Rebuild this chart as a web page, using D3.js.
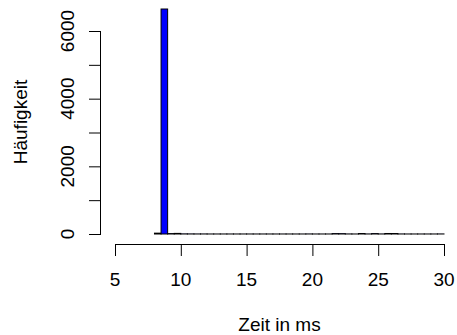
<!DOCTYPE html>
<meta charset="utf-8">
<style>
  body { margin: 0; background: #fff; }
  text { font-family: "Liberation Sans", Arial, sans-serif; font-size: 19px; fill: #000; }
</style>
<div id="chart"></div>
<script src="https://cdn.jsdelivr.net/npm/d3@7"></script>
<script>
// histogram bins (start of each 0.5 ms bin) and counts
const binStarts = d3.range(44).map(i => 8 + i * 0.5);
const counts = [25, 6650, 12, 18, 4, 3, 2, 2, 1, 1, 1, 1, 1, 1, 1, 1,
                1, 1, 1, 1, 1, 1, 1, 2, 1, 1, 1, 12, 10, 2, 1, 14,
                2, 12, 2, 15, 14, 2, 1, 1, 1, 1, 1, 2];
const binWidth = 0.5;
const xTicks = [5, 10, 15, 20, 25, 30];
const yTicks = [0, 1000, 2000, 3000, 4000, 5000, 6000];
const yLabels = [0, 2000, 4000, 6000];

const width = 457, height = 335;
const svg = d3.select("#chart").append("svg")
    .attr("width", width)
    .attr("height", height);

const x = d3.scaleLinear().domain([5, 30]).range([115, 444]);
const y = d3.scaleLinear().domain([0, 6000]).range([234, 31]);

// bars
svg.append("g")
  .selectAll("rect")
  .data(binStarts)
  .join("rect")
    .attr("x", d => x(d))
    .attr("width", d => x(d + binWidth) - x(d))
    .attr("y", (d, i) => y(counts[i]))
    .attr("height", (d, i) => y(0) - y(counts[i]))
    .attr("fill", "blue")
    .attr("stroke", "black")
    .attr("stroke-width", 1);

// x axis
const xAxis = svg.append("g")
    .attr("transform", "translate(0,244)")
    .call(d3.axisBottom(x).tickValues(xTicks).tickSize(12).tickFormat(""));
xAxis.select(".domain").attr("d", "M" + x(5) + ",0.5H" + x(30));

svg.append("g")
  .selectAll("text")
  .data(xTicks)
  .join("text")
    .attr("x", d => x(d))
    .attr("y", 286)
    .attr("text-anchor", "middle")
    .text(d => d);

// y axis
const yAxis = svg.append("g")
    .attr("transform", "translate(101,0)")
    .call(d3.axisLeft(y).tickValues(yTicks).tickSize(12).tickFormat(""));
yAxis.select(".domain").attr("d", "M-0.5," + y(0) + "V" + y(6000));

svg.append("g")
  .selectAll("text")
  .data(yLabels)
  .join("text")
    .attr("transform", d => "translate(74," + y(d) + ") rotate(-90)")
    .attr("text-anchor", "middle")
    .text(d => d);

// axis titles
svg.append("text")
    .attr("x", 279.5)
    .attr("y", 331)
    .attr("text-anchor", "middle")
    .text("Zeit in ms");

svg.append("text")
    .attr("transform", "translate(27,122) rotate(-90)")
    .attr("text-anchor", "middle")
    .text("Häufigkeit");
</script>
